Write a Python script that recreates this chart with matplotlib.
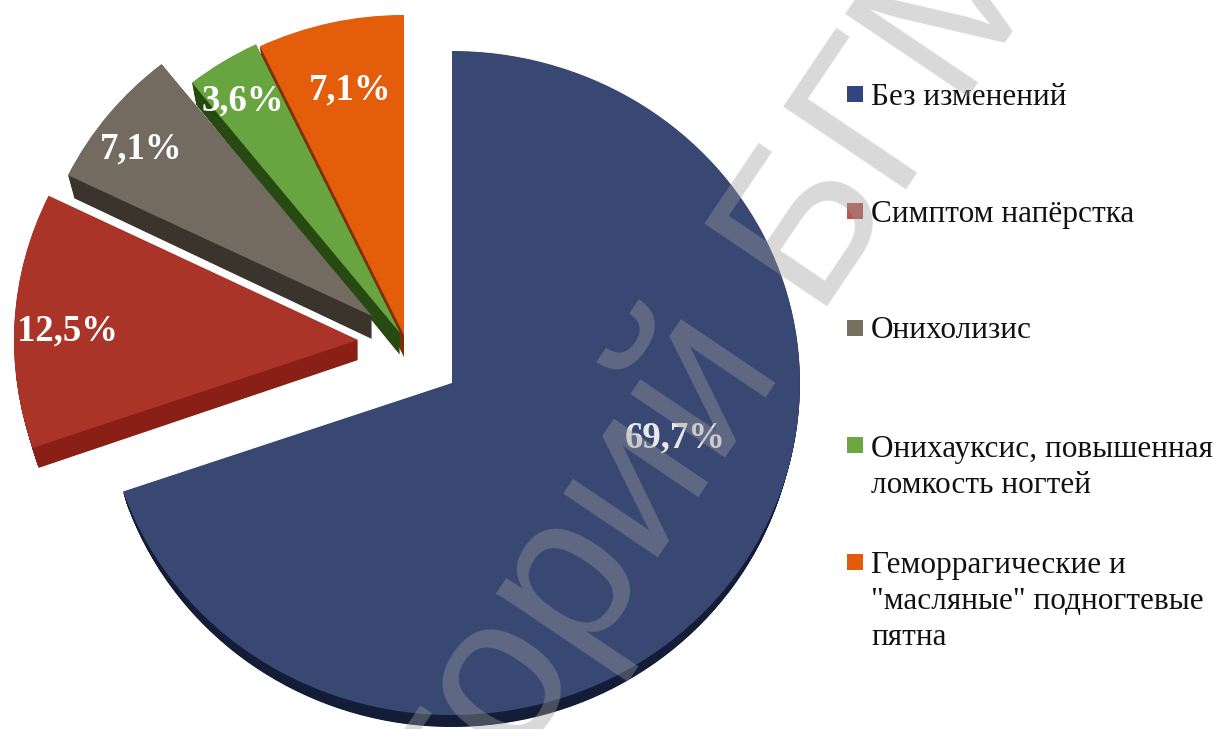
import matplotlib
matplotlib.use('Agg')
import matplotlib.pyplot as plt
from matplotlib.patches import Wedge, Rectangle
from matplotlib.transforms import Affine2D

# data
categories = ['Без изменений', 'Симптом напёрстка', 'Онихолизис',
              'Онихауксис, повышенная\nломкость ногтей',
              'Геморрагические и\n"масляные" подногтевые\nпятна']
values = [69.7, 12.5, 7.1, 3.6, 7.1]
value_labels = ['69,7%', '12,5%', '7,1%', '3,6%', '7,1%']

# styles, one entry per slice
top_colors = ['#384873', '#a93427', '#746b60', '#68a540', '#e35d0b']
side_colors = ['#131d38', '#8a2015', '#3a342d', '#274a12', '#7c2e05']
legend_colors = ['#34457e', '#b85750', '#77705f', '#6da741', '#e35c0c']
label_colors = ['#e8e8e8', 'white', 'white', 'white', 'white']
centers = [(452, 383), (358, 340), (372, 316), (400, 333), (404, 335)]
radii = [(348, 332), (344, 330), (338, 322), (334, 320), (334, 320)]
depths = [12, 20, 23, 22, 22]
draw_order = [1, 5, 4, 3, 2]
label_pos = [(675, 447), (68, 340), (141, 158), (243, 110), (350, 99)]
legend_y = [94, 211, 328, 445, 562]
legend_baseline = [105, 222, 338, 457, 573]

plt.rcParams['font.family'] = ['Liberation Serif', 'DejaVu Serif']

fig = plt.figure(figsize=(12.15, 7.29), dpi=100)
ax = fig.add_axes([0, 0, 1, 1])

wedges, _ = ax.pie(values, startangle=90, counterclock=False, radius=1,
                   colors=top_colors, wedgeprops=dict(linewidth=0))
ax.set_aspect('auto')
ax.set_xlim(0, 1215)
ax.set_ylim(729, 0)
ax.axis('off')


def slice_tf(i, t=0.0):
    # t is the depth below the top face, lower layers shrink a little
    cx, cy = centers[i]
    rx, ry = radii[i]
    return Affine2D().scale(rx * (1 - 0.0009 * t), -ry).translate(cx, cy + t) + ax.transData


for i, w in enumerate(wedges):
    w.set_transform(slice_tf(i))
    w.set_zorder(draw_order[i] + 0.5)
    # side of the slice: stack of darker copies
    for k in range(depths[i] * 2, 0, -1):
        side = Wedge((0, 0), 1, w.theta1, w.theta2, facecolor=side_colors[i], linewidth=0,
                     transform=slice_tf(i, k / 2), zorder=draw_order[i])
        ax.add_patch(side)

for i, lab in enumerate(value_labels):
    ax.text(label_pos[i][0], label_pos[i][1], lab, fontsize=26.5, fontweight='bold',
            color=label_colors[i], ha='center', va='baseline', zorder=8)

# legend
for i, cat in enumerate(categories):
    ax.add_patch(Rectangle((847, legend_y[i] - 8), 16, 16, facecolor=legend_colors[i],
                           linewidth=0, zorder=8))
    for n, line in enumerate(cat.split('\n')):
        ax.text(871, legend_baseline[i] + n * 36, line, fontsize=22.5, color='#111111',
                ha='left', va='baseline', zorder=8)

# watermark
ax.text(68, 1433, 'Репозиторий БГМУ', family='Liberation Sans', fontsize=155, color='#9d9d9d',
        alpha=0.39, rotation=56, rotation_mode='anchor', ha='left', va='baseline', zorder=9)

fig.savefig('out.png', dpi=100)
